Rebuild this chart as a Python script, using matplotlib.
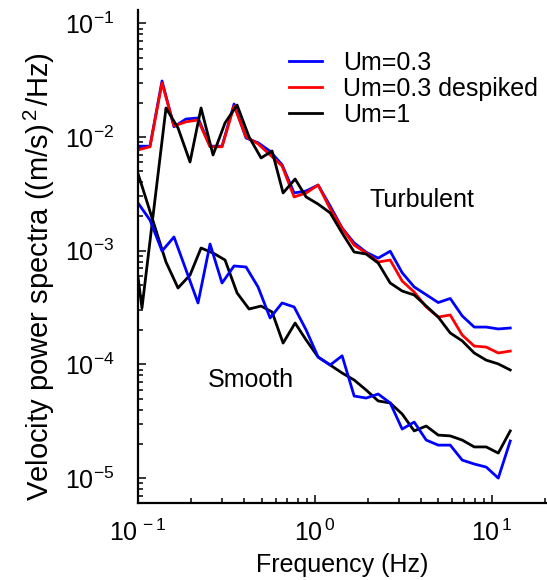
import numpy as np
import matplotlib
matplotlib.use("Agg")
import matplotlib.pyplot as plt
from matplotlib.ticker import FuncFormatter

plt.rcParams['font.family'] = ['Liberation Sans', 'DejaVu Sans']
plt.rcParams['mathtext.fontset'] = 'custom'
plt.rcParams['mathtext.rm'] = 'Liberation Sans'
plt.rcParams['mathtext.it'] = 'Liberation Sans:italic'
plt.rcParams['mathtext.bf'] = 'Liberation Sans:bold'
plt.rcParams['axes.unicode_minus'] = False

# frequency grid of the Um=0.3 spectra (Hz)
freq_a = [0.100, 0.1169, 0.1367, 0.1598, 0.1869, 0.2185, 0.2555, 0.2987,
          0.3493, 0.4084, 0.4776, 0.5585, 0.6530, 0.7636, 0.8928, 1.044,
          1.221, 1.427, 1.669, 1.951, 2.282, 2.668, 3.119, 3.647,
          4.265, 4.986, 5.831, 6.816, 7.970, 9.318, 10.90, 12.74]

# frequency grid of the Um=1 spectra (Hz)
freq_b = [0.0901, 0.1053, 0.1231, 0.1440, 0.1684, 0.1969, 0.2273, 0.2657,
          0.3107, 0.3633, 0.4248, 0.4967, 0.5732, 0.6616, 0.7736, 0.8928,
          1.044, 1.221, 1.427, 1.669, 1.951, 2.282, 2.668, 3.119,
          3.647, 4.265, 4.986, 5.831, 6.816, 7.970, 9.318, 10.90, 12.74]

turb_03 = [8.3e-3, 8.3e-3, 3.11e-2, 1.23e-2, 1.44e-2, 1.47e-2, 8.3e-3, 8.3e-3,
           1.95e-2, 9.8e-3, 8.9e-3, 7.5e-3, 5.7e-3, 3.22e-3, 3.35e-3, 3.78e-3,
           2.47e-3, 1.58e-3, 1.17e-3, 9.7e-4, 8.6e-4, 9.9e-4, 6.4e-4, 4.8e-4,
           4.1e-4, 3.5e-4, 3.8e-4, 2.67e-4, 2.13e-4, 2.13e-4, 2.05e-4, 2.09e-4]

turb_03_despiked = [7.7e-3, 8.2e-3, 2.99e-2, 1.25e-2, 1.36e-2, 1.41e-2, 8.2e-3, 8.2e-3,
                    1.87e-2, 1.0e-2, 8.7e-3, 6.95e-3, 5.56e-3, 2.97e-3, 3.22e-3, 3.78e-3,
                    2.33e-3, 1.58e-3, 1.12e-3, 9.55e-4, 7.95e-4, 8.28e-4, 5.41e-4, 4.33e-4,
                    3.20e-4, 2.61e-4, 2.72e-4, 1.81e-4, 1.45e-4, 1.42e-4, 1.26e-4, 1.31e-4]

turb_1 = [2.06e-3, 3.13e-4, 2.37e-3, 1.80e-2, 1.20e-2, 6.03e-3, 1.80e-2, 6.95e-3,
          1.33e-2, 1.91e-2, 1.0e-2, 6.54e-3, 7.53e-3, 3.22e-3, 4.27e-3, 2.97e-3,
          2.57e-3, 2.15e-3, 1.43e-3, 9.74e-4, 9.35e-4, 7.79e-4, 5.20e-4, 4.42e-4,
          4.08e-4, 3.26e-4, 2.61e-4, 1.89e-4, 1.61e-4, 1.26e-4, 1.09e-4, 1.01e-4, 8.93e-5]

smooth_03 = [2.63e-3, 1.86e-3, 9.94e-4, 1.32e-3, 6.77e-4, 3.47e-4, 1.145e-3, 5.20e-4,
             7.34e-4, 7.19e-4, 4.79e-4, 2.56e-4, 3.47e-4, 3.20e-4, 2.01e-4, 1.16e-4,
             9.88e-5, 1.19e-4, 5.27e-5, 5.06e-5, 5.49e-5, 4.58e-5, 2.70e-5, 3.11e-5,
             2.16e-5, 1.95e-5, 1.95e-5, 1.44e-5, 1.33e-5, 1.25e-5, 1.00e-5, 2.12e-5]

smooth_1 = [7.84e-3, 3.71e-3, 1.72e-3, 7.95e-4, 4.70e-4, 6.11e-4, 1.056e-3, 9.55e-4,
            8.28e-4, 4.25e-4, 3.07e-4, 3.26e-4, 2.89e-4, 1.54e-4, 2.31e-4, 1.64e-4,
            1.16e-4, 9.88e-5, 8.40e-5, 7.29e-5, 5.95e-5, 4.77e-5, 4.58e-5, 3.66e-5,
            2.60e-5, 2.87e-5, 2.39e-5, 2.35e-5, 2.16e-5, 1.88e-5, 1.88e-5, 1.66e-5, 2.60e-5]


def pow10_x(v, pos):
    e = int(round(np.log10(v)))
    return r'$10^{\,%d}$' % e


def pow10_y(v, pos):
    e = int(round(np.log10(v)))
    return r'$10^{%d}$' % e


fig = plt.figure(figsize=(5.47, 5.80), dpi=100)
ax = fig.add_axes([138 / 547, 1 - 503 / 580, 1 - 138 / 547, (503 - 10) / 580])

lw = 2.0
ax.plot(freq_a, turb_03, color='#0000ff', lw=lw, label='Um=0.3')
ax.plot(freq_a, turb_03_despiked, color='#ff0000', lw=lw, label='Um=0.3 despiked')
ax.plot(freq_b, turb_1, color='black', lw=lw, label='Um=1')
ax.plot(freq_b, smooth_1, color='black', lw=lw)
ax.plot(freq_a, smooth_03, color='#0000ff', lw=lw)

ax.set_xscale('log')
ax.set_yscale('log')
ax.set_xlim(0.1, 10 ** 1.313)
ax.set_ylim(10 ** -5.219, 10 ** -0.883)
ax.xaxis.set_major_formatter(FuncFormatter(pow10_x))
ax.yaxis.set_major_formatter(FuncFormatter(pow10_y))

for s in ['top', 'right']:
    ax.spines[s].set_visible(False)
for s in ['left', 'bottom']:
    ax.spines[s].set_linewidth(1.6)

ax.tick_params(which='both', direction='in', width=1.1)
ax.tick_params(which='major', length=6, labelsize=18)
ax.tick_params(which='minor', length=3.5)
ax.tick_params(axis='y', pad=17)
ax.tick_params(axis='x', pad=12)

ax.set_xlabel('Frequency (Hz)', fontsize=18, labelpad=5)
ax.set_ylabel('Velocity power spectra ((m/s)$^{\\,2\\,}$/Hz)', fontsize=21)
ax.yaxis.set_label_coords(-0.198, 0.46)

ax.text(4.03, 2.79e-3, 'Turbulent', fontsize=18, ha='center', va='center')
ax.text(0.437, 7.3e-5, 'Smooth', fontsize=18, ha='center', va='center')

ax.legend(loc='upper left', bbox_to_anchor=(289 / 547, 1 - 51 / 580),
          bbox_transform=fig.transFigure, frameon=False, fontsize=18,
          handlelength=1.32, handletextpad=0.84, labelspacing=0.08,
          borderpad=0, borderaxespad=0)

fig.savefig('out.png', dpi=100)
